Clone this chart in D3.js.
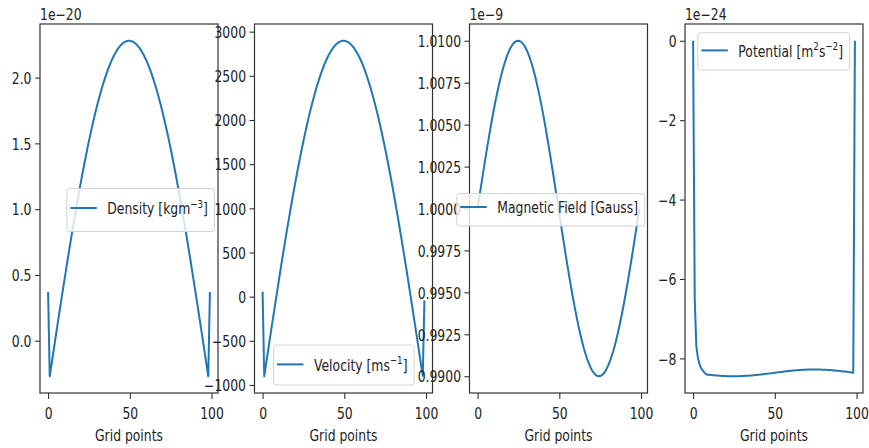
<!DOCTYPE html>
<html>
<head>
<meta charset="utf-8">
<script src="https://cdn.jsdelivr.net/npm/d3@7"></script>
<style>
  body { margin: 0; background: #fff; }
  svg { display: block; background: #fff; }
  text { font-family: "DejaVu Sans", sans-serif; fill: #222; }
</style>
</head>
<body>
<svg id="chart" width="869" height="448"></svg>
<script>
// ---------------- DATA ----------------
const xTicks = [0, 50, 100];
const xLabel = "Grid points";

// Density, units of 1e-20
const density = [0.37,
  -0.270,-0.187,-0.105,-0.023,0.059,0.141,0.222,0.303,0.383,0.463,
  0.541,0.619,0.696,0.772,0.847,0.921,0.993,1.064,1.134,1.202,
  1.269,1.334,1.397,1.459,1.519,1.576,1.632,1.686,1.738,1.788,
  1.836,1.881,1.925,1.965,2.004,2.040,2.074,2.105,2.134,2.160,
  2.184,2.205,2.224,2.240,2.253,2.264,2.272,2.277,2.280,
  2.280,2.277,2.272,2.264,2.253,2.240,2.224,2.205,2.184,
  2.160,2.134,2.105,2.074,2.040,2.004,1.965,1.925,1.881,1.836,
  1.788,1.738,1.686,1.632,1.576,1.519,1.459,1.397,1.334,1.269,
  1.202,1.134,1.064,0.993,0.921,0.847,0.772,0.696,0.619,0.541,
  0.463,0.383,0.303,0.222,0.141,0.059,-0.023,-0.105,-0.187,-0.270,
  0.37];
const densityTicks = [0.0, 0.5, 1.0, 1.5, 2.0];

// Velocity, m/s
const velocity = [57,
  -901,-778,-655,-533,-410,-289,-168,-47,72,191,
  308,424,538,651,763,872,980,1086,1190,1291,
  1391,1488,1582,1674,1763,1849,1932,2013,2090,2164,
  2235,2303,2367,2428,2486,2540,2590,2637,2679,2719,
  2754,2785,2813,2837,2857,2873,2885,2893,2897,
  2897,2893,2885,2873,2857,2837,2813,2785,2754,
  2719,2679,2637,2590,2540,2486,2428,2367,2303,2235,
  2164,2090,2013,1932,1849,1763,1674,1582,1488,1391,
  1291,1190,1086,980,872,763,651,538,424,308,
  191,72,-47,-168,-289,-410,-533,-655,-778,-895,
  -40];
const velocityTicks = [-1000, -500, 0, 500, 1000, 1500, 2000, 2500, 3000];

// Magnetic field, units of 1e-9 Gauss
const magneticField = [
  1.00000,1.00063,1.00127,1.00189,1.00251,1.00312,1.00372,1.00430,1.00486,1.00541,
  1.00593,1.00643,1.00690,1.00735,1.00776,1.00815,1.00850,1.00881,1.00910,1.00934,
  1.00955,1.00972,1.00985,1.00994,1.00999,1.01000,1.00997,1.00990,1.00979,1.00964,
  1.00945,1.00922,1.00896,1.00866,1.00833,1.00796,1.00756,1.00713,1.00667,1.00618,
  1.00567,1.00514,1.00458,1.00401,1.00342,1.00282,1.00220,1.00158,1.00095,1.00032,
  0.99968,0.99905,0.99842,0.99780,0.99718,0.99658,0.99599,0.99542,0.99486,0.99433,
  0.99382,0.99333,0.99287,0.99244,0.99204,0.99167,0.99134,0.99104,0.99078,0.99055,
  0.99036,0.99021,0.99010,0.99003,0.99000,0.99001,0.99006,0.99015,0.99028,0.99045,
  0.99066,0.99090,0.99119,0.99150,0.99185,0.99224,0.99265,0.99310,0.99357,0.99407,
  0.99459,0.99514,0.99570,0.99628,0.99688,0.99749,0.99811,0.99873,0.99937,1.00000];
const magneticTicks = [0.9900, 0.9925, 0.9950, 0.9975, 1.0000, 1.0025, 1.0050, 1.0075, 1.0100];

// Potential, units of 1e-24
const potential = [0,
  -6.5,-7.7,-8.0,-8.15,-8.25,-8.31,-8.36,-8.40,-8.411,
  -8.415,-8.420,-8.424,-8.427,-8.431,-8.434,-8.437,-8.440,-8.442,-8.444,
  -8.446,-8.448,-8.449,-8.449,-8.450,-8.450,-8.450,-8.449,-8.448,-8.447,
  -8.445,-8.443,-8.441,-8.439,-8.436,-8.433,-8.429,-8.426,-8.422,-8.418,
  -8.413,-8.409,-8.404,-8.399,-8.394,-8.389,-8.384,-8.378,-8.373,-8.368,
  -8.362,-8.357,-8.352,-8.346,-8.341,-8.336,-8.331,-8.326,-8.321,-8.317,
  -8.312,-8.308,-8.304,-8.301,-8.297,-8.294,-8.291,-8.289,-8.287,-8.285,
  -8.283,-8.282,-8.281,-8.280,-8.280,-8.280,-8.281,-8.281,-8.282,-8.284,
  -8.286,-8.288,-8.290,-8.293,-8.296,-8.299,-8.303,-8.306,-8.310,-8.315,
  -8.319,-8.324,-8.328,-8.333,-8.338,-8.344,-8.349,-8.354,-8.360,
  0];
const potentialTicks = [-8, -6, -4, -2, 0];

// ---------------- LAYOUT ----------------
const FS = 15.5;      // font size (vertical)
const SX = 0.8;       // horizontal condense of glyphs
const plotTop = 24, plotBottom = 393, plotW = 178;
const LINE_COLOR = "#1f77b4";

const panels = [
  { values: density, ticks: densityTicks, fmt: d3.format(".1f"), left: 40, offset: "1e\u221220",
    legend: [{t: "Density [kgm"}, {t: "\u22123", sup: true}, {t: "]"}],
    lg: { tx: 107.3, base: 214.3, top: 188.5, bottom: 231.5 } },
  { values: velocity, ticks: velocityTicks, fmt: d3.format("d"), left: 254.5, offset: null,
    legend: [{t: "Velocity [ms"}, {t: "\u22121", sup: true}, {t: "]"}],
    lg: { tx: 314, base: 370.7, top: 345, bottom: 385 } },
  { values: magneticField, ticks: magneticTicks, fmt: d3.format(".4f"), left: 469.5, offset: "1e\u22129",
    legend: [{t: "Magnetic Field [Gauss]"}],
    lg: { tx: 497.3, base: 213.3, top: 193.5, bottom: 226 } },
  { values: potential, ticks: potentialTicks, fmt: d3.format("d"), left: 685, offset: "1e\u221224",
    legend: [{t: "Potential [m"}, {t: "2", sup: true}, {t: "s"}, {t: "\u22122", sup: true}, {t: "]"}],
    lg: { tx: 738.3, base: 56.7, top: 32.7, bottom: 70 } }
];

const svg = d3.select("#chart");

function condense(sel) {
  sel.each(function () {
    const t = d3.select(this);
    const x = +t.attr("x") || 0;
    t.attr("transform", `translate(${x},0) scale(${SX},1) translate(${-x},0)`);
  });
}

panels.forEach(p => {
  const x0 = p.left, x1 = p.left + plotW;
  const ext = d3.extent(p.values);
  const pad = (ext[1] - ext[0]) * 0.05;
  const y = d3.scaleLinear().domain([ext[0] - pad, ext[1] + pad]).range([plotBottom, plotTop]);
  const n = p.values.length - 1;
  const x = d3.scaleLinear().domain([-0.05 * n, n * 1.05]).range([x0, x1]);

  const g = svg.append("g");

  // curve
  g.append("path")
    .datum(p.values)
    .attr("d", d3.line().x((d, i) => x(i)).y(d => y(d)))
    .attr("fill", "none")
    .attr("stroke", LINE_COLOR)
    .attr("stroke-width", 2)
    .attr("stroke-linejoin", "round");

  // y axis
  const ya = g.append("g").attr("transform", `translate(${x0},0)`)
    .call(d3.axisLeft(y).tickValues(p.ticks).tickFormat(p.fmt).tickSize(5).tickPadding(3.5));
  ya.select(".domain").remove();
  ya.selectAll(".tick line").attr("stroke", "#333").attr("stroke-width", 1.1);
  ya.selectAll(".tick text").attr("font-size", FS).attr("dy", "0.37em")
    .attr("fill", "#222").style("font-family", "'DejaVu Sans', sans-serif").call(condense);

  // x axis
  const xa = g.append("g").attr("transform", `translate(0,${plotBottom})`)
    .call(d3.axisBottom(x).tickValues(xTicks).tickFormat(d3.format("d")).tickSize(6));
  xa.select(".domain").remove();
  xa.selectAll(".tick line").attr("stroke", "#333").attr("stroke-width", 1.1);
  xa.selectAll(".tick text").attr("font-size", FS).attr("y", 26.3).attr("dy", null)
    .attr("fill", "#222").style("font-family", "'DejaVu Sans', sans-serif").call(condense);

  // frame
  g.append("rect")
    .attr("x", x0).attr("y", plotTop).attr("width", plotW).attr("height", plotBottom - plotTop)
    .attr("fill", "none").attr("stroke", "#333").attr("stroke-width", 1.2);

  // x label
  g.append("text").attr("x", (x0 + x1) / 2).attr("y", 441.5)
    .attr("text-anchor", "middle").attr("font-size", FS).text(xLabel).call(condense);

  // offset text
  if (p.offset) {
    g.append("text").attr("x", x0).attr("y", 20).attr("font-size", FS).text(p.offset).call(condense);
  }

  // legend
  const lg = p.lg;
  const lgG = g.append("g");
  const box = lgG.append("rect");
  const txt = lgG.append("text").attr("x", lg.tx).attr("y", lg.base).attr("font-size", FS);
  let raised = false;
  p.legend.forEach(part => {
    const ts = txt.append("tspan").text(part.t);
    if (part.sup && !raised) { ts.attr("font-size", FS * 0.7).attr("dy", -6.5); raised = true; }
    else if (!part.sup && raised) { ts.attr("dy", 6.5); raised = false; }
    else if (part.sup) { ts.attr("font-size", FS * 0.7); }
  });
  const tlen = txt.node().getComputedTextLength() * SX;
  txt.call(condense);
  const bx0 = lg.tx - 40.5, bx1 = lg.tx + tlen + 6.5;
  box.attr("x", bx0).attr("y", lg.top).attr("width", bx1 - bx0).attr("height", lg.bottom - lg.top)
    .attr("rx", 3).attr("fill", "#fff").attr("fill-opacity", 0.8)
    .attr("stroke", "#d3d3d3").attr("stroke-width", 1);
  lgG.insert("line", "text")
    .attr("x1", bx0 + 3.5).attr("x2", bx0 + 30)
    .attr("y1", lg.base - 6.3).attr("y2", lg.base - 6.3)
    .attr("stroke", LINE_COLOR).attr("stroke-width", 2);
});
</script>
</body>
</html>
